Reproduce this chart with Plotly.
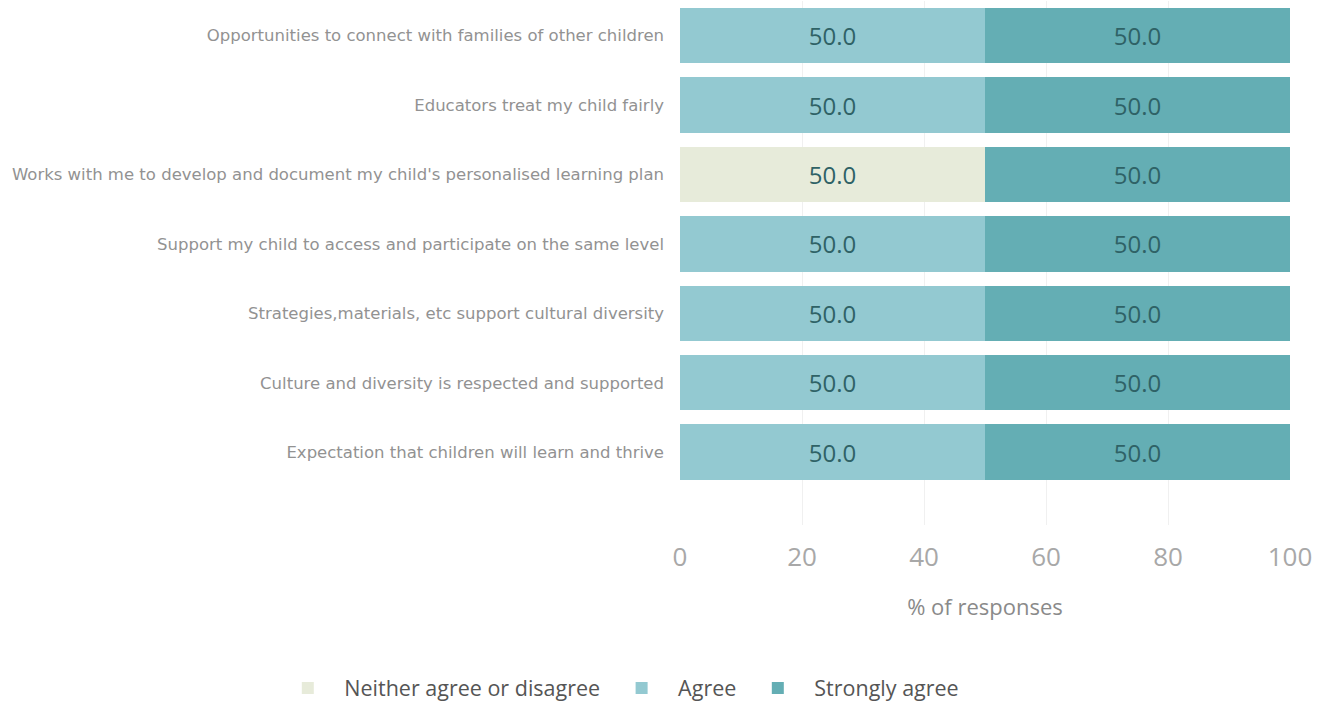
import plotly.graph_objects as go

categories = [
    "Opportunities to connect with families of other children",
    "Educators treat my child fairly",
    "Works with me to develop and document my child's personalised learning plan",
    "Support my child to access and participate on the same level",
    "Strategies,materials, etc support cultural diversity",
    "Culture and diversity is respected and supported",
    "Expectation that children will learn and thrive",
]
neither = [0, 0, 50.0, 0, 0, 0, 0]
agree = [50.0, 50.0, 0, 50.0, 50.0, 50.0, 50.0]
strongly = [50.0, 50.0, 50.0, 50.0, 50.0, 50.0, 50.0]
x_ticks = [0, 20, 40, 60, 80, 100]

series = [
    ("Neither agree or disagree", neither, "#e7ebda"),
    ("Agree", agree, "#93c9d1"),
    ("Strongly agree", strongly, "#64aeb4"),
]

fig = go.Figure()
for name, vals, color in series:
    fig.add_trace(go.Bar(
        y=categories, x=vals, name=name, orientation="h",
        marker=dict(color=color, line=dict(width=0)),
        width=0.8,
        text=[f"{v:.1f}" if v else "" for v in vals],
        textposition="inside", insidetextanchor="middle",
        textfont=dict(family="Open Sans", size=24, color="#2f6266"),
    ))

fig.update_layout(
    barmode="stack",
    width=1326, height=702,
    plot_bgcolor="white", paper_bgcolor="white",
    margin=dict(l=680, r=36, t=1, b=177, autoexpand=False),
    showlegend=True,
    legend=dict(orientation="h",
                x=-0.670, xanchor="left", y=-0.311, yanchor="middle",
                font=dict(family="Open Sans", size=21.5, color="#555555"),
                traceorder="normal", itemwidth=63),
    uniformtext=dict(mode=False),
)
fig.update_xaxes(
    range=[0, 100], tickvals=x_ticks, ticktext=[str(t) for t in x_ticks],
    showgrid=True, gridcolor="#f0f0f0", zeroline=False, automargin=False,
    tickfont=dict(family="Open Sans", size=26, color="#a8a8a8"),
    ticks="", ticklabelstandoff=14,
    title=dict(text="% of responses", font=dict(family="Open Sans", size=22, color="#8a8a8a"), standoff=26),
)
fig.update_yaxes(
    range=[7.05, -0.5], showgrid=False, automargin=False,
    tickfont=dict(family="DejaVu Sans", size=16.5, color="#929292"),
    ticks="", ticklabelstandoff=15,
)

fig.write_html("out.html", config={"displayModeBar": False},
               post_script="document.body.style.margin='0';")
